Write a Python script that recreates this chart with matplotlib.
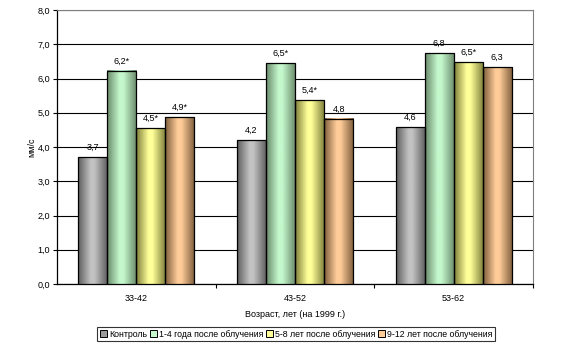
import numpy as np
import matplotlib
matplotlib.use('Agg')
import matplotlib.pyplot as plt
from matplotlib.colors import LinearSegmentedColormap
from matplotlib.patches import Patch

plt.rcParams['font.family'] = ['Liberation Sans', 'DejaVu Sans']

# === Données ===
groupes = ['33-42', '43-52', '53-62']
series = ['Контроль', '1-4 года после облучения',
          '5-8 лет после облучения', '9-12 лет после облучения']
kontrol = [3.7, 4.2, 4.57]
god_1_4 = [6.22, 6.45, 6.74]
let_5_8 = [4.55, 5.37, 6.48]
let_9_12 = [4.87, 4.82, 6.33]
etiquettes = [['3,7', '4,2', '4,6'],
              ['6,2*', '6,5*', '6,8'],
              ['4,5*', '5,4*', '6,5*'],
              ['4,9*', '4,8', '6,3']]
valeurs = [kontrol, god_1_4, let_5_8, let_9_12]

# couleurs : bord sombre, centre clair
teintes = [('#5e5e5e', '#c2c2c2'),
           ('#6a8a6a', '#c4f8cc'),
           ('#7e7e3a', '#ffff99'),
           ('#7e5e3c', '#ffcc99')]
couleurs_legende = ['#9a9a9a', '#c4f8cc', '#ffff99', '#ffcc99']

fig = plt.figure(figsize=(5.74, 3.58), dpi=100)
ax = fig.add_axes([0.0993, 0.2067, 0.8293, 0.7653])

x = np.arange(len(groupes))
largeur = 0.183
grad = np.linspace(0, 1, 64).reshape(1, -1)

for i, (vals, (fonce, clair)) in enumerate(zip(valeurs, teintes)):
    cmap = LinearSegmentedColormap.from_list(
        f'c{i}', [(0, fonce), (0.42, clair), (0.55, clair), (1, fonce)])
    barres = ax.bar(x + (i - 1.5) * largeur, vals, largeur,
                    facecolor='none', edgecolor='black', linewidth=0.9, zorder=4)
    for b, lab in zip(barres, etiquettes[i]):
        x0, w, h = b.get_x(), b.get_width(), b.get_height()
        ax.imshow(grad, cmap=cmap, aspect='auto', extent=[x0, x0 + w, 0, h],
                  zorder=3, interpolation='bilinear')
        ax.annotate(lab, (x0 + w / 2, h), xytext=(0, 4), textcoords='offset points',
                    ha='center', va='bottom', fontsize=6.5, zorder=5)

ax.set_xlim(-0.5, 2.5)
ax.set_ylim(0, 8)
ax.set_yticks(np.arange(0, 9, 1))
ax.set_yticklabels([f'{v:.1f}'.replace('.', ',') for v in range(9)], fontsize=6.5)
ax.yaxis.grid(True, color='black', linewidth=0.8)
ax.set_axisbelow(True)

ax.set_xticks(x)
ax.set_xticklabels(groupes, fontsize=6.5)
ax.set_xticks([0.5, 1.5, 2.5], minor=True)
ax.tick_params(axis='x', which='major', length=0, pad=7)
ax.tick_params(axis='x', which='minor', length=3, width=0.8)
ax.tick_params(axis='y', length=3, width=0.8, pad=2)

for c in ['top', 'right']:
    ax.spines[c].set_color('#808080')
for c in ['left', 'bottom']:
    ax.spines[c].set_linewidth(0.9)

ax.set_xlabel('Возраст, лет (на 1999 г.)', fontsize=6.5, labelpad=5)
ax.set_ylabel('мм/с', fontsize=6.5, labelpad=1)

poignees = [Patch(facecolor=c, edgecolor='black', linewidth=0.7) for c in couleurs_legende]
leg = fig.legend(poignees, series, loc='center', bbox_to_anchor=(0.516, 0.066),
                 ncol=4, fontsize=6.3, frameon=True, fancybox=False,
                 handlelength=0.8, handleheight=0.8, handletextpad=0.2,
                 columnspacing=0.35, borderpad=0.3, borderaxespad=0)
leg.get_frame().set_edgecolor('black')
leg.get_frame().set_linewidth(0.8)

fig.savefig('out.png', dpi=100)
